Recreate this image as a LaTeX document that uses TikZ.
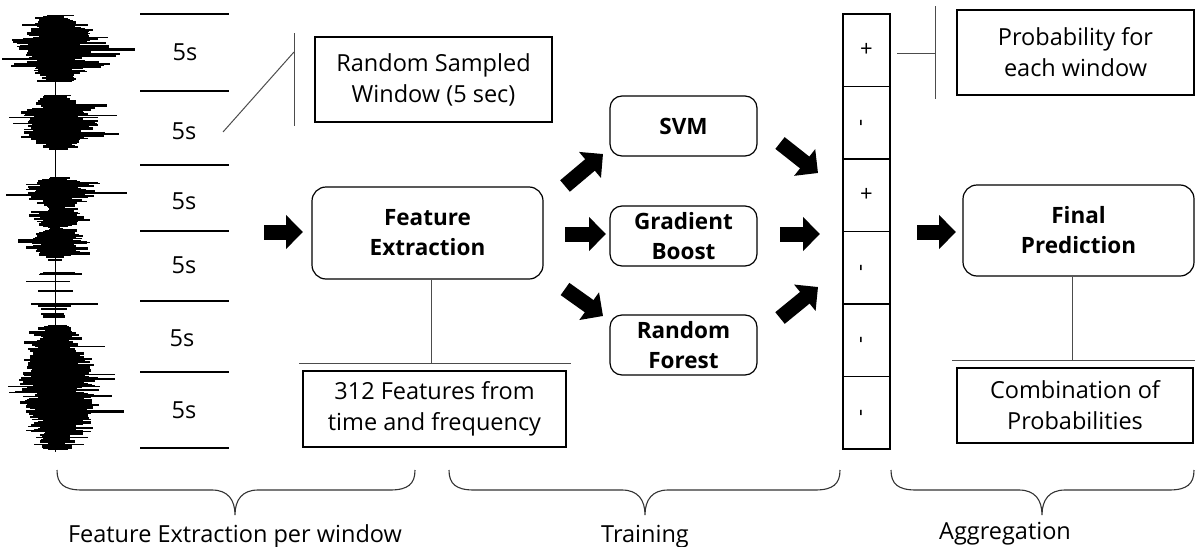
\documentclass[tikz,border=0pt]{standalone}
\usepackage{fontspec}
\setmainfont{Open Sans}
\usetikzlibrary{arrows.meta}
\begin{document}
\begin{tikzpicture}[x=1pt,y=-1pt,
  txt/.style={font=\fontsize{23.5}{31}\selectfont, align=center},
  bx/.style={draw, line width=1.2pt, inner sep=0pt, txt},
  rbx/.style={bx, rounded corners=14pt, font=\fontsize{22.5}{30}\selectfont\bfseries},
  conn/.style={draw=black!70, line width=1pt},
  sepline/.style={line width=1.2pt},
  blk/.style={line width=15pt, -{Triangle[length=17pt,width=33pt]}},
  cell/.style={draw, line width=1.2pt, minimum width=47pt, minimum height=72.5pt, inner sep=0pt},
  sign/.style={font=\fontsize{22}{22}\selectfont, inner sep=0pt},
  bracel/.style={draw=black!80, line width=1.1pt},
]
\useasboundingbox (0,0) rectangle (1201,546);

% ---------- waveform ----------
\pgfmathsetseed{12}
\draw[line width=1pt] (55,15) -- (55,452);
\foreach \ya/\yb/\amp/\dens in {15/80/44/1, 95/148/42/1, 177/205/40/1, 207/226/28/1, 228/256/34/1, 258/322/26/0.22, 325/448/42/1} {
  \foreach \y in {\ya,...,\yb} {
    \pgfmathsetmacro\fr{(\y-\ya)/(\yb-\ya+0.01)}
    \pgfmathsetmacro\tp{0.35+0.65*sin(180*\fr)}
    \pgfmathsetmacro\lw{\amp*\tp*(0.35+0.45*rnd+0.7*rnd^8)}
    \pgfmathsetmacro\rw{1.3*\amp*\tp*(0.35+0.45*rnd+0.8*rnd^8)}
    \pgfmathsetmacro\th{1+2*rnd}
    \pgfmathsetmacro\keep{rnd<\dens ? 1 : 0}
    \ifdim\keep pt>0.5pt
      \fill (55-\lw,\y) rectangle (55+\rw,\y+\th);
    \fi
  }
}

% ---------- window separators and labels ----------
\foreach \i/\yy in {0/14,1/91,2/165,3/231,4/301,5/372,6/448} {
  \coordinate (sa\i) at (140,\yy);
  \coordinate (sb\i) at (229,\yy);
  \draw[sepline] (sa\i) -- (sb\i);
}
\foreach \i/\xx/\yy in {1/185/52,2/184/131,3/184/201,4/184/265,5/182/338,6/184/410} {
  \node[txt, inner sep=0pt] (w\i) at (\xx,\yy) {5s};
}

% ---------- random sampled window ----------
\node[bx, minimum width=237pt, minimum height=85pt] (rsw) at (433.5,79.5) {Random Sampled\\Window (5 sec)};
\coordinate (v1a) at (294,33);
\coordinate (v1b) at (294,126);
\coordinate (v1m) at (294,52);
\coordinate (d1) at (223,132);
\draw[conn] (v1a) -- (v1b);
\draw[conn] (d1) -- (v1m);

% ---------- feature extraction ----------
\node[rbx, minimum width=231pt, minimum height=92pt] (fe) at (427.5,233) {Feature\\Extraction};
\node[bx, minimum width=263pt, minimum height=76pt] (feat) at (434.5,409) {312 Features from\\time and frequency};
\coordinate (h1m) at (431,363);
\coordinate (h1a) at (299,363);
\coordinate (h1b) at (571,363);
\draw[conn] (fe.south -| h1m) -- (h1m);
\draw[conn] (h1a) -- (h1b);

% ---------- classifiers ----------
\node[rbx, rounded corners=12pt, minimum width=147pt, minimum height=60pt] (svm) at (683.5,126) {SVM};
\node[rbx, rounded corners=12pt, minimum width=147pt, minimum height=60pt] (gb) at (683.5,236) {Gradient\\Boost};
\node[rbx, rounded corners=12pt, minimum width=147pt, minimum height=60pt] (rf) at (683.5,345) {Random\\Forest};

% ---------- window probability column ----------
\foreach \i in {0,...,5} {
  \node[cell] (c\i) at (866.5,{50.25+72.5*\i}) {};
}
\node[sign] (s0) at (c0) {+};
\node[sign, rotate=90] (s1) at ([xshift=-3pt]c1.center) {-};
\node[sign] (s2) at (c2) {+};
\node[sign, rotate=90] (s3) at ([xshift=-3pt]c3.center) {-};
\node[sign, rotate=90] (s4) at ([xshift=-3pt]c4.center) {-};
\node[sign, rotate=90] (s5) at ([xshift=-3pt]c5.center) {-};

\node[bx, minimum width=237pt, minimum height=85pt] (prob) at (1075.5,52.5) {Probability for\\each window};
\coordinate (v2a) at (935,6);
\coordinate (v2b) at (935,99);
\coordinate (v2m) at (935,53);
\coordinate (h2a) at (897,53);
\draw[conn] (v2a) -- (v2b);
\draw[conn] (h2a) -- (v2m);

% ---------- final prediction ----------
\node[rbx, minimum width=231pt, minimum height=91pt] (fp) at (1078.5,230.5) {Final\\Prediction};
\node[bx, minimum width=236pt, minimum height=75pt] (comb) at (1075,405.5) {Combination of\\Probabilities};
\coordinate (h3m) at (1072,360);
\coordinate (h3a) at (952,360);
\coordinate (h3b) at (1195,360);
\draw[conn] (fp.south -| h3m) -- (h3m);
\draw[conn] (h3a) -- (h3b);

% ---------- block arrows ----------
\foreach \n/\xa/\ya/\xb/\yb in {1/264/232/303/232, 2/565/186/603/154, 3/565/234/606/234, 4/565/289/603/316,
  5/780/143/818/173, 6/780/234/820/234, 7/780/318/818/287, 8/917/232/956/232} {
  \coordinate (ar\n a) at (\xa,\ya);
  \coordinate (ar\n b) at (\xb,\yb);
  \draw[blk] (ar\n a) -- (ar\n b);
}

% ---------- braces ----------
\draw[bracel] (57,470) .. controls (57,484) and (64,490) .. (82,490) -- (212,490)
  .. controls (228,490) and (235,500) .. (235,515) .. controls (235,500) and (242,490) .. (258,490)
  -- (390,490) .. controls (408,490) and (415,484) .. (415,470);
\draw[bracel] (449,470) .. controls (449,484) and (456,490) .. (474,490) -- (622,490)
  .. controls (638,490) and (645,500) .. (645,515) .. controls (645,500) and (652,490) .. (668,490)
  -- (815,490) .. controls (833,490) and (840,484) .. (840,470);
\draw[bracel] (891,470) .. controls (891,484) and (898,490) .. (916,490) -- (1019,490)
  .. controls (1035,490) and (1042,500) .. (1042,515) .. controls (1042,500) and (1049,490) .. (1065,490)
  -- (1169,490) .. controls (1187,490) and (1194,484) .. (1194,470);

\node[txt, anchor=base, inner sep=0pt] (l1) at (235,542) {Feature Extraction per window};
\node[txt, anchor=base, inner sep=0pt] (l2) at (645,542) {Training};
\node[txt, anchor=base, inner sep=0pt] (l3) at (1005,539) {Aggregation};
\end{tikzpicture}
\end{document}
